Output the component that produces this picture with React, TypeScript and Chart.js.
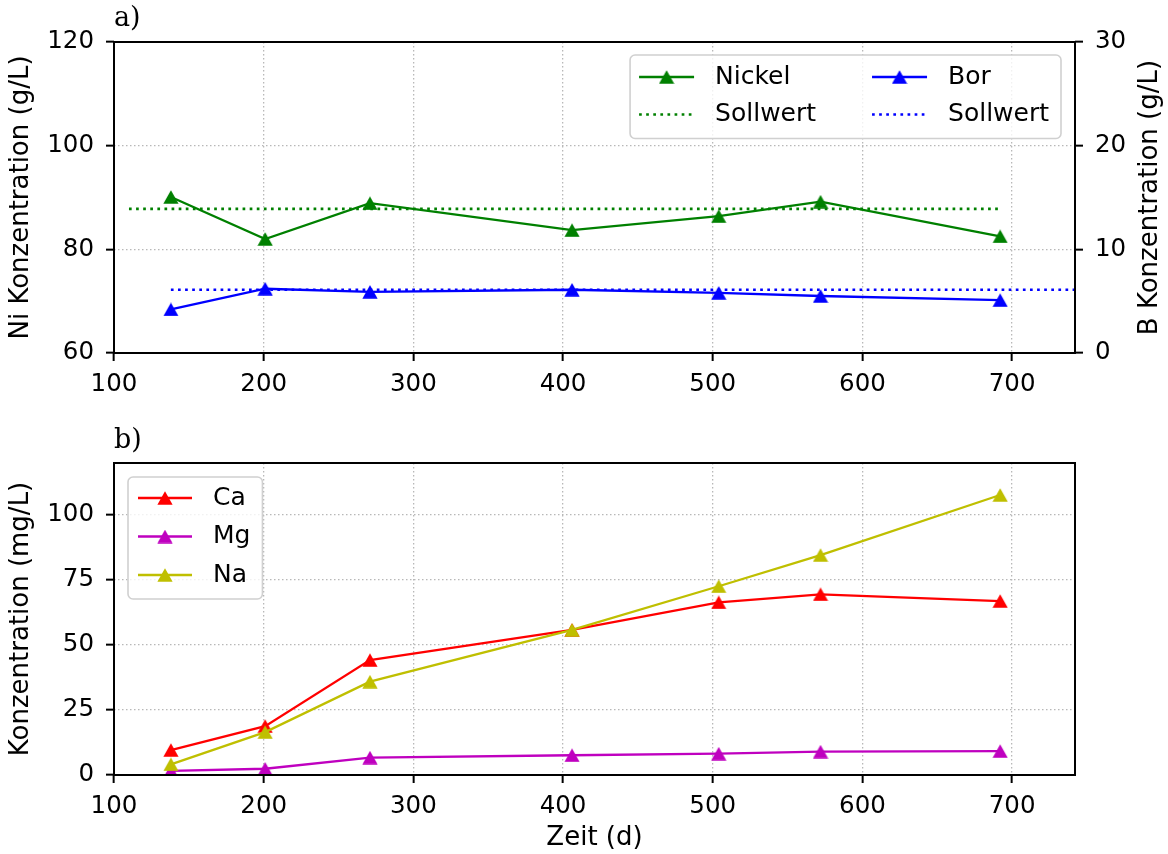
import React, { useEffect, useRef } from 'react';
import { Chart, registerables } from 'chart.js';

Chart.register(...registerables);

// ---------- data ----------
const days = [138, 201, 271, 406, 504, 572, 692];
const nickel = [90.1, 82.0, 88.9, 83.7, 86.4, 89.2, 82.5];
const bor = [4.2, 6.2, 5.9, 6.1, 5.8, 5.5, 5.1];
const niSollDays = [110, 692];
const niSoll = [87.8, 87.8];
const bSollDays = [138, 760];
const bSoll = [6.1, 6.1];

const calcium = [9.6, 18.8, 44.2, 55.8, 66.4, 69.5, 66.9];
const magnesium = [1.6, 2.4, 6.7, 7.6, 8.2, 9.0, 9.2];
const sodium = [4.1, 16.5, 35.9, 55.8, 72.6, 84.6, 107.7];

const xTicks = [100, 200, 300, 400, 500, 600, 700];
const niTicks = [60, 80, 100, 120];
const bTicks = [0, 10, 20, 30];
const concTicks = [0, 25, 50, 75, 100];

// ---------- styles ----------
const FAMILY = '"DejaVu Sans", "Liberation Sans", sans-serif';
const SERIF = '"DejaVu Serif", "Liberation Serif", serif';
const GREEN = '#008000';
const BLUE = '#0000ff';
const RED = '#ff0000';
const MAG = '#bf00bf';
const YEL = '#bfbf00';
const LINE_W = 2.3;
const DOT_W = 2.7;
const DOT_DASH = [2.7, 4.4];
const GRID_COLOR = '#b8b8b8';
const TICK_SIZE = 24.5;
const TITLE_SIZE = 26;
const LEGEND_SIZE = 25;

const W = 1168;
const TOP_H = 410;
const BOT_H = 444;

function pts(xs: number[], ys: number[]) {
  return xs.map((x, i) => ({ x, y: ys[i] }));
}

function triangle(color: string): HTMLCanvasElement {
  const c = document.createElement('canvas');
  c.width = 16;
  c.height = 14;
  const g = c.getContext('2d')!;
  g.fillStyle = color;
  g.beginPath();
  g.moveTo(8, 0.3);
  g.lineTo(15.6, 13.7);
  g.lineTo(0.4, 13.7);
  g.closePath();
  g.fill();
  return c;
}

type LegItem = { label: string; color: string; dotted: boolean; marker?: HTMLCanvasElement };
type LegCfg = {
  columns: LegItem[][];
  anchor: 'right' | 'left';
  offX: number;
  offY: number;
  padL: number;
  padR: number;
  firstRow: number;
  rowGap: number;
  padB: number;
  handle: number;
  textGap: number;
  colGap: number;
};

function makeDecor(panel: string, panelY: number, leg: LegCfg, rightTitle?: string) {
  return {
    id: 'decor',
    afterDatasetsDraw(chart: any) {
      const { ctx, chartArea: a } = chart;
      ctx.save();
      ctx.strokeStyle = '#000';
      ctx.lineWidth = 2;
      ctx.strokeRect(a.left, a.top, a.right - a.left, a.bottom - a.top);
      ctx.restore();
    },
    afterDraw(chart: any) {
      const { ctx, chartArea: a } = chart;
      ctx.save();
      // panel label
      ctx.font = `27px ${SERIF}`;
      ctx.fillStyle = '#000';
      ctx.textAlign = 'left';
      ctx.textBaseline = 'alphabetic';
      ctx.fillText(panel, a.left, panelY);

      // right axis title, reading bottom-to-top
      if (rightTitle) {
        ctx.save();
        ctx.font = `${TITLE_SIZE}px ${FAMILY}`;
        ctx.translate(chart.width - 18, (a.top + a.bottom) / 2);
        ctx.rotate(-Math.PI / 2);
        ctx.textAlign = 'center';
        ctx.textBaseline = 'middle';
        ctx.fillText(rightTitle, 0, 0);
        ctx.restore();
      }

      // legend
      ctx.font = `${LEGEND_SIZE}px ${FAMILY}`;
      const colWidths = leg.columns.map(
        (col) => leg.handle + leg.textGap + Math.max(...col.map((it) => ctx.measureText(it.label).width))
      );
      const rows = Math.max(...leg.columns.map((c) => c.length));
      const boxW =
        leg.padL + colWidths.reduce((s, w) => s + w, 0) + leg.colGap * (colWidths.length - 1) + leg.padR;
      const boxH = leg.firstRow + leg.rowGap * (rows - 1) + leg.padB;
      const bx = leg.anchor === 'right' ? a.right - leg.offX - boxW : a.left + leg.offX;
      const by = a.top + leg.offY;

      ctx.beginPath();
      ctx.roundRect(bx, by, boxW, boxH, 5);
      ctx.fillStyle = 'rgba(255,255,255,0.8)';
      ctx.fill();
      ctx.strokeStyle = '#d0d0d0';
      ctx.lineWidth = 1.6;
      ctx.stroke();

      let cx = bx + leg.padL;
      leg.columns.forEach((col, ci) => {
        col.forEach((it, ri) => {
          const y = by + leg.firstRow + ri * leg.rowGap;
          ctx.save();
          ctx.strokeStyle = it.color;
          ctx.lineWidth = it.dotted ? DOT_W : LINE_W;
          ctx.setLineDash(it.dotted ? DOT_DASH : []);
          ctx.beginPath();
          ctx.moveTo(cx, y);
          ctx.lineTo(cx + leg.handle, y);
          ctx.stroke();
          ctx.restore();
          if (it.marker) {
            const m = it.marker;
            ctx.drawImage(m, cx + leg.handle / 2 - m.width / 2, y - m.height / 2);
          }
          ctx.fillStyle = '#000';
          ctx.textBaseline = 'middle';
          ctx.textAlign = 'left';
          ctx.fillText(it.label, cx + leg.handle + leg.textGap, y);
        });
        cx += colWidths[ci] + leg.colGap;
      });
      ctx.restore();
    },
  };
}

function tickFont() {
  return { family: FAMILY, size: TICK_SIZE };
}

function xScale(height: number, title?: string) {
  return {
    type: 'linear',
    position: 'bottom',
    min: 100,
    max: 742,
    afterBuildTicks: (s: any) => {
      s.ticks = xTicks.map((v) => ({ value: v }));
    },
    afterFit: (s: any) => {
      s.height = height;
    },
    grid: {
      color: GRID_COLOR,
      lineWidth: 1.3,
      drawTicks: true,
      tickLength: 8,
      tickWidth: 2,
      tickColor: '#000',
    },
    border: { display: false, dash: [1.5, 2.5] },
    ticks: { font: tickFont(), color: '#000', padding: 9, maxRotation: 0, autoSkip: false },
    title: title
      ? {
          display: true,
          text: title,
          font: { family: FAMILY, size: TITLE_SIZE },
          color: '#000',
          padding: { top: 0, bottom: 0 },
        }
      : { display: false },
  };
}

function yScale(
  position: 'left' | 'right',
  min: number,
  max: number,
  ticks: number[],
  width: number,
  title: string | null,
  titlePad: number,
  gridOn: boolean
) {
  return {
    type: 'linear',
    position,
    min,
    max,
    afterBuildTicks: (s: any) => {
      s.ticks = ticks.map((v) => ({ value: v }));
    },
    afterFit: (s: any) => {
      s.width = width;
    },
    grid: {
      drawOnChartArea: gridOn,
      color: GRID_COLOR,
      lineWidth: 1.3,
      drawTicks: true,
      tickLength: 8,
      tickWidth: 2,
      tickColor: '#000',
    },
    border: { display: false, dash: [1.5, 2.5] },
    ticks: { font: tickFont(), color: '#000', padding: 12 },
    title: title
      ? {
          display: true,
          text: title,
          font: { family: FAMILY, size: TITLE_SIZE },
          color: '#000',
          padding: { top: titlePad, bottom: 0 },
        }
      : { display: false },
  };
}

function lineDs(label: string, data: any[], color: string, marker: HTMLCanvasElement, yAxisID: string, order: number) {
  return {
    label,
    data,
    yAxisID,
    order,
    borderColor: color,
    backgroundColor: color,
    borderWidth: LINE_W,
    pointStyle: marker,
    pointRadius: 8,
    pointBorderWidth: 0,
    tension: 0,
    fill: false,
  };
}

function dotDs(label: string, data: any[], color: string, yAxisID: string, order: number) {
  return {
    label,
    data,
    yAxisID,
    order,
    borderColor: color,
    backgroundColor: color,
    borderWidth: DOT_W,
    borderDash: DOT_DASH,
    pointRadius: 0,
    tension: 0,
    fill: false,
  };
}

export default function App() {
  const topRef = useRef<HTMLCanvasElement>(null);
  const botRef = useRef<HTMLCanvasElement>(null);

  useEffect(() => {
    const triG = triangle(GREEN);
    const triB = triangle(BLUE);
    const triR = triangle(RED);
    const triM = triangle(MAG);
    const triY = triangle(YEL);

    const common = {
      responsive: false,
      animation: false,
      devicePixelRatio: 1,
      events: [],
      plugins: { legend: { display: false }, tooltip: { enabled: false } },
    };

    const top = new Chart(topRef.current!, {
      type: 'line',
      data: {
        datasets: [
          lineDs('Bor', pts(days, bor), BLUE, triB, 'y1', 0) as any,
          dotDs('Sollwert', pts(bSollDays, bSoll), BLUE, 'y1', 1) as any,
          dotDs('Sollwert', pts(niSollDays, niSoll), GREEN, 'y', 2) as any,
          lineDs('Nickel', pts(days, nickel), GREEN, triG, 'y', 3) as any,
        ],
      },
      options: {
        ...common,
        layout: { padding: { top: 42, left: 0, right: 0, bottom: 0 } },
        scales: {
          x: xScale(TOP_H - 353) as any,
          y: yScale('left', 60, 120, niTicks, 114, 'Ni Konzentration (g/L)', 6, true) as any,
          y1: yScale('right', 0, 30, bTicks, W - 1075, null, 0, false) as any,
        },
      } as any,
      plugins: [
        makeDecor(
          'a)',
          26,
          {
            columns: [
              [
                { label: 'Nickel', color: GREEN, dotted: false, marker: triG },
                { label: 'Sollwert', color: GREEN, dotted: true },
              ],
              [
                { label: 'Bor', color: BLUE, dotted: false, marker: triB },
                { label: 'Sollwert', color: BLUE, dotted: true },
              ],
            ],
            anchor: 'right',
            offX: 14,
            offY: 13,
            padL: 9,
            padR: 12,
            firstRow: 22,
            rowGap: 37.5,
            padB: 24,
            handle: 55,
            textGap: 21,
            colGap: 56,
          },
          'B Konzentration (g/L)'
        ),
      ],
    });

    const bot = new Chart(botRef.current!, {
      type: 'line',
      data: {
        datasets: [
          lineDs('Na', pts(days, sodium), YEL, triY, 'y', 0) as any,
          lineDs('Mg', pts(days, magnesium), MAG, triM, 'y', 1) as any,
          lineDs('Ca', pts(days, calcium), RED, triR, 'y', 2) as any,
        ],
      },
      options: {
        ...common,
        layout: { padding: { top: 463 - TOP_H, left: 0, right: W - 1075, bottom: 0 } },
        scales: {
          x: xScale(BOT_H - (775 - TOP_H), 'Zeit (d)') as any,
          y: yScale('left', 0, 120, concTicks, 114, 'Konzentration (mg/L)', 6, true) as any,
        },
      } as any,
      plugins: [
        makeDecor('b)', 448 - TOP_H, {
          columns: [
            [
              { label: 'Ca', color: RED, dotted: false, marker: triR },
              { label: 'Mg', color: MAG, dotted: false, marker: triM },
              { label: 'Na', color: YEL, dotted: false, marker: triY },
            ],
          ],
          anchor: 'left',
          offX: 14,
          offY: 14,
          padL: 10,
          padR: 12,
          firstRow: 21,
          rowGap: 38.5,
          padB: 24,
          handle: 54,
          textGap: 21,
          colGap: 0,
        }),
      ],
    });

    return () => {
      top.destroy();
      bot.destroy();
    };
  }, []);

  return (
    <div style={{ position: 'absolute', left: 0, top: 0, width: W, height: TOP_H + BOT_H, background: '#fff' }}>
      <canvas ref={topRef} width={W} height={TOP_H} style={{ position: 'absolute', left: 0, top: 0 }} />
      <canvas ref={botRef} width={W} height={BOT_H} style={{ position: 'absolute', left: 0, top: TOP_H }} />
    </div>
  );
}
